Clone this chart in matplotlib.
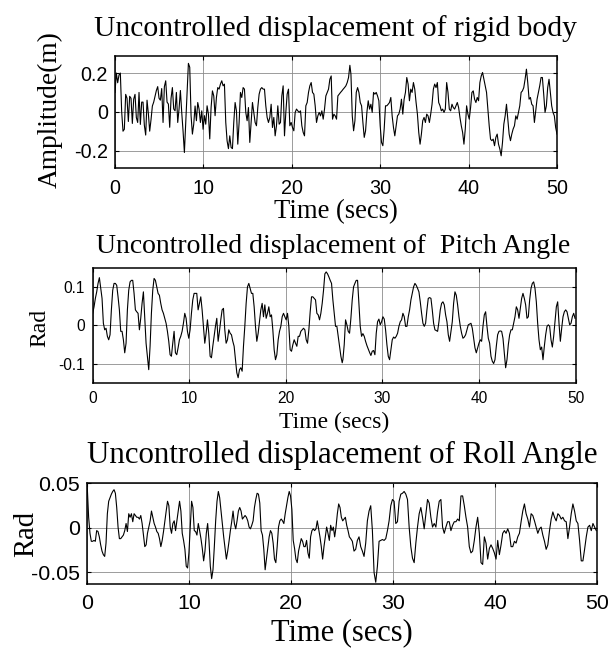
import numpy as np
import matplotlib
matplotlib.use('Agg')
import matplotlib.pyplot as plt

# values (two halves per trace)
rigid_a = [0.10, 0.20, 0.15, 0.19, 0.20, 0.00, -0.10, -0.09, 0.09, 0.07, -0.05, 0.08, 0.07, -0.06, 0.065,
           0.09, -0.03, -0.055, 0.10, -0.065, 0.05, 0.05, -0.07, -0.12, 0.06, -0.01, -0.10, -0.04, 0.03, 0.05,
           0.08, 0.11, 0.13, 0.07, 0.06, 0.12, -0.055, 0.13, 0.16, 0.05, 0.04, -0.08, 0.07, 0.125, 0.015,
           0.005, 0.10, -0.055, 0.015, 0.11, -0.003, -0.10, -0.21, -0.055, 0.10, 0.25, 0.23, -0.02, -0.115,
           -0.064, 0.03, -0.046, 0.048, 0.014, -0.055, 0.005, -0.09, -0.02, -0.064, 0.031, -0.012, -0.14,
           0.022, 0.108, 0.082, -0.02, 0.074, 0.125, 0.117, 0.143, 0.16, 0.134, 0.143, -0.055, -0.15, -0.19,
           -0.124, -0.184, -0.19, -0.055, 0.048, 0.005, -0.167, -0.055, 0.10, 0.074, 0.125, 0.117, -0.003,
           -0.046, 0.022, -0.158, -0.055, 0.048, -0.003, -0.055, -0.072, 0.022, 0.091, 0.117, 0.125, 0.117,
           0.117, 0.031, -0.029, -0.055, -0.029, 0.039, -0.081, -0.029, -0.124, -0.072, 0.031, -0.064, -0.055,
           0.082, 0.134, -0.124, -0.003, 0.091, 0.117, -0.072, -0.055, -0.081, -0.098, -0.003, 0.014, 0.005,
           -0.003, 0.005, -0.072, -0.106, -0.124, 0.031, 0.048, 0.10, 0.134, 0.151, 0.10, 0.091, 0.031, -0.055,
           -0.021, -0.003, -0.021, 0.005, -0.038, 0.014, 0.082, 0.10, 0.117, 0.168, 0.185, -0.038, -0.012,
           -0.021, -0.038, 0.082, 0.091, 0.10, 0.108, 0.117, 0.125, 0.134, 0.151, 0.177, 0.24]
rigid_b = [0.194, -0.021, -0.098, -0.046, 0.10, 0.125, 0.10, 0.048, 0.031, -0.055, -0.132, -0.098, -0.003,
           0.057, 0.014, 0.039, -0.003, 0.10, 0.091, 0.10, 0.082, 0.057, -0.072, -0.158, -0.175, -0.089, 0.031,
           0.031, 0.039, 0.048, 0.074, -0.021, -0.081, -0.124, -0.072, -0.021, -0.012, 0.014, 0.065, -0.012,
           0.065, 0.10, 0.177, 0.143, 0.057, 0.117, 0.10, 0.151, 0.117, 0.048, -0.012, -0.106, -0.167, -0.115,
           -0.046, -0.029, -0.055, -0.012, -0.021, -0.055, -0.012, 0.039, 0.117, 0.143, 0.125, 0.151, 0.048,
           0.031, 0.005, 0.014, -0.003, 0.014, 0.151, 0.10, 0.014, 0.005, 0.039, 0.022, 0.014, 0.031, 0.048,
           0.022, -0.029, -0.072, -0.106, -0.167, -0.089, 0.031, -0.012, -0.038, 0.022, 0.10, 0.108, 0.065,
           0.048, 0.074, 0.057, 0.151, 0.185, 0.203, 0.168, 0.134, 0.10, 0.014, -0.072, -0.141, -0.149, -0.141,
           -0.175, -0.132, -0.115, -0.167, -0.192, -0.227, -0.158, -0.064, -0.021, 0.039, -0.038, -0.115,
           -0.149, -0.115, -0.089, -0.072, -0.021, -0.038, -0.003, 0.031, 0.10, 0.108, 0.125, 0.168, 0.220,
           0.151, 0.065, 0.074, 0.039, 0.031, -0.055, 0.005, 0.065, 0.10, 0.134, 0.177, 0.177, 0.091, -0.003,
           0.031, 0.125, 0.168, 0.10, 0.031, -0.003, -0.021, -0.081, -0.115]

pitch_a = [0.031, 0.048, 0.070, 0.087, 0.109, 0.124, 0.096, 0.070, 0.005, -0.012, -0.008, -0.029, -0.038,
           -0.025, 0.040, 0.091, 0.109, 0.109, 0.104, 0.074, 0.040, -0.016, -0.016, -0.038, -0.072, -0.047,
           0.040, 0.091, 0.113, 0.117, 0.117, 0.083, 0.040, 0.035, 0.031, -0.012, 0.018, 0.057, 0.087, 0.022,
           -0.047, -0.081, -0.116, -0.055, 0.031, 0.091, 0.122, 0.117, 0.100, 0.083, 0.078, 0.057, 0.040, 0.031,
           0.018, 0.005, -0.016, -0.042, -0.077, -0.081, -0.047, -0.016, -0.072, -0.077, -0.059, -0.038, -0.029,
           -0.016, 0.005, 0.031, 0.018, -0.016, -0.034, -0.012, 0.031, 0.066, 0.083, 0.083, 0.083, 0.040, 0.057,
           0.074, 0.040, -0.003, -0.047, -0.021, 0.014, -0.021, -0.081, -0.085, -0.055, -0.029, -0.003, 0.018,
           -0.042, -0.016, 0.014, 0.040, 0.044, -0.012, -0.047, -0.038, -0.012, -0.021, -0.025, -0.042, -0.055,
           -0.090, -0.124, -0.137, -0.116, -0.111, -0.120, -0.055, -0.003, 0.057, 0.100, 0.109, 0.096, 0.083,
           0.083, 0.048, -0.003, -0.042, -0.021, 0.009, 0.040, 0.057, 0.022, 0.053, 0.018, 0.031, 0.048, 0.022,
           0.027, -0.012, -0.064, -0.090, -0.077, -0.038, -0.016, -0.003, 0.022, 0.031, 0.022, 0.014, 0.031,
           -0.003, -0.064, -0.068, -0.051, -0.038, -0.047, -0.055, -0.029, -0.029, -0.016, -0.012, -0.008,
           -0.012, -0.038, -0.047, -0.012, 0.035, 0.074, 0.074, 0.070, 0.066, 0.031, 0.027, 0.014, 0.031, 0.057,
           0.091, 0.134, 0.139, 0.134, 0.126, 0.117, 0.109, 0.066, 0.031, -0.003, -0.003, -0.029, -0.055,
           -0.081, -0.098]
pitch_b = [-0.090, -0.051, 0.014, 0.001, -0.016, -0.021, 0.018, 0.066, 0.100, 0.109, 0.117, 0.117, 0.057,
           -0.003, -0.029, -0.022, -0.029, -0.042, -0.053, -0.062, -0.071, -0.079, -0.068, -0.066, -0.077,
           -0.021, 0.009, 0.016, 0.001, 0.009, 0.022, 0.016, -0.012, -0.051, -0.081, -0.090, -0.064, -0.038,
           -0.031, -0.034, -0.029, -0.021, -0.003, 0.009, 0.014, 0.031, 0.022, -0.003, -0.003, 0.022, 0.040,
           0.066, 0.083, 0.100, 0.109, 0.104, 0.096, 0.087, 0.061, 0.031, 0.005, -0.003, 0.005, 0.040, 0.070,
           0.072, 0.070, 0.040, 0.005, -0.012, -0.014, -0.016, 0.009, 0.040, 0.057, 0.061, 0.053, 0.027, 0.009,
           -0.025, -0.042, -0.016, 0.009, 0.057, 0.087, 0.078, 0.053, 0.022, -0.003, -0.021, -0.034, -0.031,
           -0.025, -0.012, 0.001, 0.003, 0.005, -0.008, -0.034, -0.059, -0.072, -0.059, -0.047, -0.038, -0.042,
           -0.003, 0.027, 0.035, -0.003, -0.034, -0.047, -0.081, -0.094, -0.100, -0.090, -0.055, -0.025, -0.016,
           -0.015, -0.016, -0.034, -0.072, -0.111, -0.090, -0.051, -0.025, -0.012, -0.012, 0.005, 0.022, 0.048,
           0.040, 0.018, 0.044, 0.070, 0.083, 0.070, 0.053, 0.018, 0.022, 0.066, 0.096, 0.109, 0.113, 0.096,
           0.061, 0.005, -0.038, -0.064, -0.057, -0.090, -0.055, -0.025, -0.003, 0.001, -0.003, -0.038, -0.057,
           -0.029, 0.009, 0.048, 0.061, 0.005, -0.042, -0.008, 0.022, 0.035, 0.040, 0.035, 0.018, 0.001, 0.005,
           0.022, 0.031, 0.018]

roll_a = [0.045, 0.012, -0.006, -0.015, -0.015, -0.014, -0.015, -0.003, -0.004, -0.010, -0.019, -0.026,
          -0.030, -0.032, -0.017, 0.016, 0.030, 0.034, 0.038, 0.041, 0.043, 0.039, 0.023, 0.001, -0.012,
          -0.012, -0.010, -0.008, -0.003, 0.005, -0.004, 0.016, 0.012, 0.016, 0.007, 0.016, 0.014, 0.012,
          0.012, 0.010, 0.014, 0.005, -0.008, -0.021, -0.019, -0.006, 0.001, 0.008, 0.019, 0.012, 0.005,
          0.001, -0.004, -0.006, -0.012, -0.021, -0.014, -0.004, 0.008, 0.019, 0.030, 0.025, 0.001, -0.006,
          0.005, 0.008, -0.003, 0.008, 0.019, 0.030, 0.019, -0.006, -0.014, -0.024, -0.043, -0.045, -0.028,
          0.001, 0.030, 0.023, -0.003, -0.004, -0.008, 0.005, -0.003, -0.012, -0.023, -0.037, -0.026, -0.006,
          0.005, -0.014, -0.043, -0.057, -0.047, -0.021, 0.008, 0.030, 0.041, 0.034, 0.019, 0.005, -0.010,
          -0.023, -0.035, -0.026, -0.015, -0.003, 0.007, 0.019, 0.005, -0.001, 0.008, 0.019, 0.023, 0.019,
          0.010, 0.012, 0.014, 0.012, 0.008, 0.001, -0.001, 0.003, 0.008, 0.023, 0.032, 0.039, 0.038, 0.028,
          -0.003, -0.008, -0.024, -0.047, -0.035, -0.024, -0.010, -0.003, -0.006, -0.017, -0.035, -0.039,
          -0.021, 0.001, 0.008, 0.010, 0.008, 0.005, 0.016, 0.025, 0.034, 0.041, 0.036, 0.021, -0.014, -0.023,
          -0.035, -0.039, -0.026, -0.019, -0.012, -0.015, -0.021, -0.021, -0.014, -0.028, -0.034, -0.010,
          -0.003, -0.001, -0.003, -0.001, 0.008, -0.001, -0.010, -0.021, -0.035, -0.021, -0.010, 0.001,
          -0.006, -0.014, 0.003, -0.003, 0.001, -0.010, 0.001, 0.016, 0.027, 0.023, 0.012, 0.008, 0.010,
          0.012, 0.003, -0.003, -0.010, -0.012]
roll_b = [-0.015, -0.026, -0.024, -0.014, -0.010, -0.021, -0.026, -0.032, -0.017, 0.008, 0.019, 0.025,
          -0.003, -0.050, -0.061, -0.043, -0.015, -0.014, -0.013, -0.014, -0.012, -0.003, 0.008, 0.025, 0.032,
          0.030, 0.005, 0.007, 0.030, 0.038, 0.039, 0.041, 0.038, 0.032, 0.001, -0.021, -0.034, -0.039,
          -0.017, 0.001, 0.016, 0.023, 0.012, -0.001, 0.016, 0.032, 0.028, 0.012, 0.001, 0.005, 0.001, 0.018,
          0.030, 0.032, 0.001, -0.006, 0.001, 0.007, 0.007, -0.003, 0.003, 0.007, 0.007, 0.010, 0.008, 0.036,
          0.036, 0.025, 0.012, 0.001, -0.021, -0.028, -0.026, -0.014, 0.001, 0.012, -0.006, -0.039, -0.041,
          -0.010, -0.017, -0.035, -0.023, -0.019, -0.023, -0.028, -0.035, -0.014, -0.030, -0.019, -0.006,
          -0.003, -0.006, -0.001, -0.006, -0.021, -0.021, -0.015, -0.017, -0.010, -0.006, 0.007, 0.019, 0.027,
          0.016, 0.010, 0.001, 0.016, 0.014, 0.008, 0.001, -0.006, -0.001, 0.001, -0.008, -0.015, -0.024,
          -0.019, -0.003, 0.010, 0.018, 0.012, 0.008, 0.016, 0.014, 0.010, 0.012, 0.008, 0.007, -0.012, 0.001,
          0.016, 0.027, 0.019, 0.008, 0.005, -0.014, -0.037, -0.037, -0.024, -0.010, 0.001, 0.003, -0.003,
          0.005, 0.001, -0.003]

# sample times of the two halves of each trace
t_rigid = np.concatenate([np.linspace(0, 26.57, len(rigid_a)), np.linspace(26.69, 50, len(rigid_b))])
t_pitch = np.concatenate([np.linspace(0, 25.84, len(pitch_a)), np.linspace(25.91, 49.95, len(pitch_b))])
t_roll = np.concatenate([np.linspace(0, 25.84, len(roll_a)), np.linspace(26.0, 49.93, len(roll_b))])

titles = ['Uncontrolled displacement of rigid body',
          'Uncontrolled displacement of  Pitch Angle',
          'Uncontrolled displacement of Roll Angle']
ylabels = ['Amplitude(m)', 'Rad', 'Rad']
xlabel = 'Time (secs)'
xticks = [0, 10, 20, 30, 40, 50]
yticks = [[-0.2, 0, 0.2], [-0.1, 0, 0.1], [-0.05, 0, 0.05]]
yticklabels = [['-0.2', '0', '0.2'], ['-0.1', '0', '0.1'], ['-0.05', '0', '0.05']]
ylims = [(-0.29, 0.288), (-0.15, 0.15), (-0.063, 0.0502)]

W, H = 613, 648
fig = plt.figure(figsize=(W / 100, H / 100), dpi=100)
serif = 'Liberation Serif'
sans = 'Liberation Sans'

# per panel: box in px (l, t, r, b), tick size, x pad, y pad,
# title (x, baseline, size), xlabel (x, baseline, size), ylabel (x, y, size)
panels = [
    dict(box=(115, 56, 557, 168), tfs=14.2, xpad=8, ypad=5,
         title=(336, 36, 21.3), xl=(336, 218.3, 19.2), yl=(50, 110, 19.7)),
    dict(box=(92.7, 267.7, 575.5, 382.7), tfs=11.2, xpad=6.2, ypad=5.5,
         title=(333, 253.3, 20), xl=(334, 428.3, 17), yl=(40, 327.5, 17)),
    dict(box=(87.3, 483.3, 597, 584), tfs=15.4, xpad=7.3, ypad=5.3,
         title=(342, 463.3, 22.3), xl=(342, 640, 22), yl=(26.5, 534, 20.6)),
]
series = [(t_rigid, rigid_a + rigid_b), (t_pitch, pitch_a + pitch_b), (t_roll, roll_a + roll_b)]

for i, p in enumerate(panels):
    l, t, r, b = p['box']
    ax = fig.add_axes([l / W, 1 - b / H, (r - l) / W, (b - t) / H])
    x, y = series[i]
    ax.plot(x, y, color='black', lw=0.8)
    ax.set_xlim(0, 50)
    ax.set_ylim(*ylims[i])
    ax.set_xticks(xticks)
    ax.set_xticklabels([str(v) for v in xticks], family=sans, fontsize=p['tfs'])
    ax.set_yticks(yticks[i])
    ax.set_yticklabels(yticklabels[i], family=sans, fontsize=p['tfs'])
    ax.tick_params(direction='in', top=True, right=True, length=3, width=0.8)
    ax.tick_params(axis='x', pad=p['xpad'])
    ax.tick_params(axis='y', pad=p['ypad'])
    ax.grid(True, color='0.55', lw=0.6)
    for s in ax.spines.values():
        s.set_linewidth(1.1)

    tx, ty, ts = p['title']
    fig.text(tx / W, 1 - ty / H, titles[i], family=serif, fontsize=ts, ha='center', va='baseline')
    xx, xy, xs = p['xl']
    fig.text(xx / W, 1 - xy / H, xlabel, family=serif, fontsize=xs, ha='center', va='baseline')
    yx, yy, ys = p['yl']
    fig.text(yx / W, 1 - yy / H, ylabels[i], family=serif, fontsize=ys, ha='center', va='center',
             rotation=90)

fig.savefig('out.png', dpi=100)
